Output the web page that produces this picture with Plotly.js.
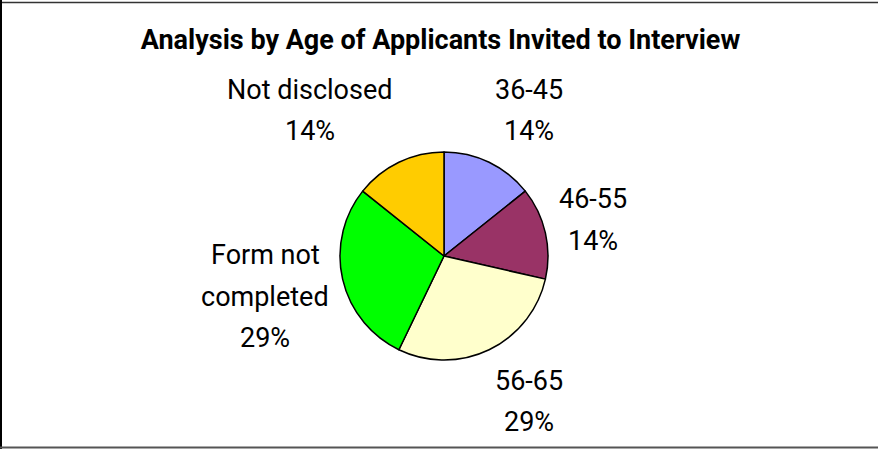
<!DOCTYPE html>
<html>
<head>
<meta charset="utf-8">
<script src="https://cdn.plot.ly/plotly-3.0.1.min.js"></script>
<style>
html,body{margin:0;padding:0;background:#fff;}
#chart{width:878px;height:449px;}
</style>
</head>
<body>
<div id="chart"></div>
<script>
const categories = ["36-45", "46-55", "56-65", "Form not completed", "Not disclosed"];
const labelLines = [["36-45"], ["46-55"], ["56-65"], ["Form not", "completed"], ["Not disclosed"]];
const counts = [1, 1, 2, 2, 1];
const sliceColors = ["#9999FF", "#993366", "#FFFFCC", "#00FF00", "#FFCC00"];
const chartTitle = "Analysis by Age of Applicants Invited to Interview";

const W = 878, H = 449;
const FONT = "Roboto, 'Liberation Sans', sans-serif";
const LABEL_SIZE = 27;
const LINE_STEP = 41.5;

// pie geometry (pixels)
const CX = 444, CY = 256, R = 104;
const LABEL_R = R + 14;

const trace = {
  type: "pie",
  labels: categories,
  values: counts,
  sort: false,
  direction: "clockwise",
  rotation: 0,
  marker: {colors: sliceColors, line: {color: "#000", width: 1.5}},
  textinfo: "none",
  hoverinfo: "none",
  showlegend: false,
  automargin: false,
  domain: {x: [(CX - R) / W, (CX + R) / W], y: [(H - CY - R) / H, (H - CY + R) / H]}
};

// measure text widths
const cv = document.createElement("canvas").getContext("2d");
cv.font = LABEL_SIZE + "px Roboto";

const total = counts.reduce((a, b) => a + b, 0);
const annotations = [];
let cum = 0;
counts.forEach((v, i) => {
  const mid = (cum + v / 2) / total * 2 * Math.PI;
  cum += v;
  const s = Math.sin(mid), c = Math.cos(mid);
  const px = CX + LABEL_R * s, py = CY - LABEL_R * c;
  const lines = labelLines[i].concat([Math.round(v / total * 100) + "%"]);
  const w = Math.max(...lines.map(t => cv.measureText(t).width));
  const n = lines.length;
  const blockH = (n - 1) * LINE_STEP + 22 + 24;
  let bx;
  if (s > 0.2) bx = px + w / 2;
  else if (s < -0.2) bx = px - w / 2;
  else bx = px;
  const fy = (1 + c) / 2; // 0 = top anchored, 1 = bottom anchored
  const by = py + (0.5 - fy) * blockH;
  lines.forEach((t, j) => {
    const ly = by + (j - (n - 1) / 2) * LINE_STEP;
    annotations.push({
      xref: "paper", yref: "paper",
      x: bx / W, y: 1 - ly / H,
      xanchor: "center", yanchor: "middle",
      showarrow: false, text: t,
      font: {family: FONT, size: LABEL_SIZE, color: "#000"}
    });
  });
});

const layout = {
  width: W, height: H,
  margin: {l: 0, r: 0, t: 0, b: 0},
  paper_bgcolor: "#fff",
  title: {text: "<b>" + chartTitle + "</b>", font: {family: FONT, size: 27, color: "#000"}, x: 440.5 / W, xanchor: "center", y: 1 - 40 / H, yanchor: "middle"},
  annotations: annotations,
  shapes: [
    {type: "line", xref: "paper", yref: "paper", x0: 0, x1: 1, y0: 1 - 2.5 / H, y1: 1 - 2.5 / H, line: {color: "#333", width: 1.5}},
    {type: "line", xref: "paper", yref: "paper", x0: 1 / W, x1: 1 / W, y0: 0, y1: 1, line: {color: "#000", width: 2}},
    {type: "line", xref: "paper", yref: "paper", x0: 0, x1: 1, y0: 1.5 / H, y1: 1.5 / H, line: {color: "#555", width: 2}}
  ]
};

Plotly.newPlot("chart", [trace], layout, {staticPlot: true, displayModeBar: false});
</script>
</body>
</html>
